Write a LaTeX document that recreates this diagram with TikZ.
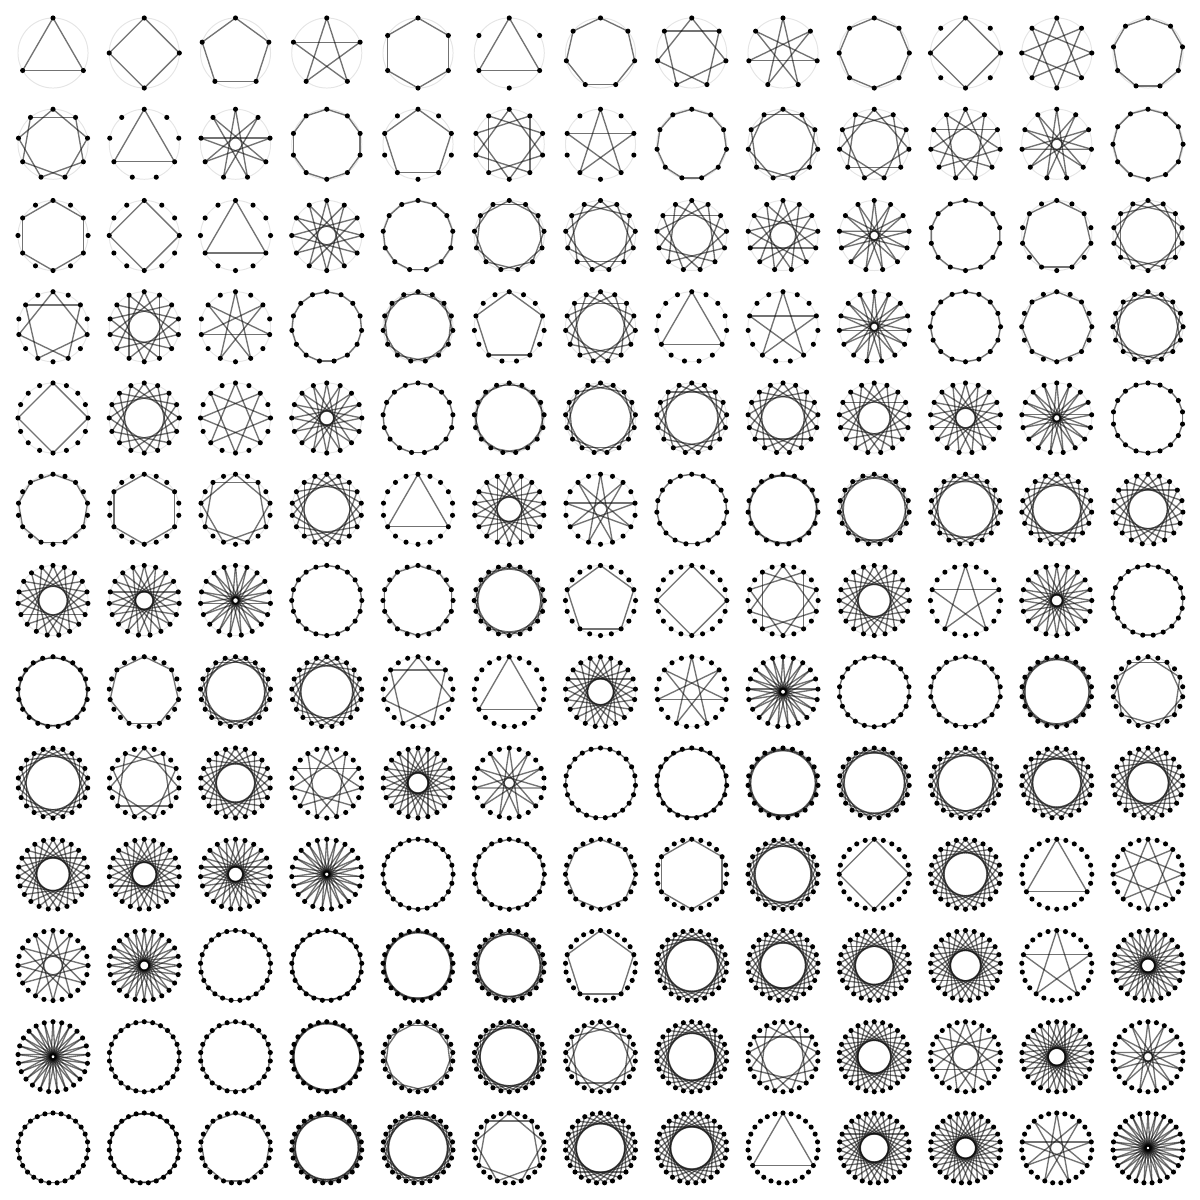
\documentclass[tikz,border=0pt]{standalone}
\usepackage{tikz}
\newcount\cellno
\begin{document}
\begin{tikzpicture}[x=1cm,y=1cm,
  rim/.style={draw=black!10,line width=0.3pt},
  chord/.style={draw=black,draw opacity=0.55,line width=0.42pt,line cap=round},
  vertex/.style={fill=black}]
  \useasboundingbox (0,0) rectangle (13.151,-13.151);
  \global\cellno=0
  % star polygons {n/k}, n = 3..27, k = 1..(n-1)/2
  \foreach \n in {3,...,27}{
    \pgfmathtruncatemacro{\kmax}{(\n-1)/2}
    \foreach \k in {1,...,\kmax}{
      \pgfmathtruncatemacro{\col}{mod(\the\cellno,13)}
      \pgfmathtruncatemacro{\row}{div(\the\cellno,13)}
      \pgfmathtruncatemacro{\len}{\n/gcd(\n,\k)}
      \begin{scope}[shift={(0.581+\col,-0.581-\row)}]
        \draw[rim] (0,0) circle (0.384);
        \foreach \j in {1,...,\len}{
          \pgfmathtruncatemacro{\a}{mod((\j-1)*\k,\n)}
          \pgfmathtruncatemacro{\b}{mod(\j*\k,\n)}
          \draw[chord] ({90-\a*360/\n}:0.384) -- ({90-\b*360/\n}:0.384);
        }
        \foreach \v in {1,...,\n}
          \fill[vertex] ({90-\v*360/\n}:0.384) circle (0.028);
      \end{scope}
      \global\advance\cellno by 1
    }
  }
\end{tikzpicture}
\end{document}
